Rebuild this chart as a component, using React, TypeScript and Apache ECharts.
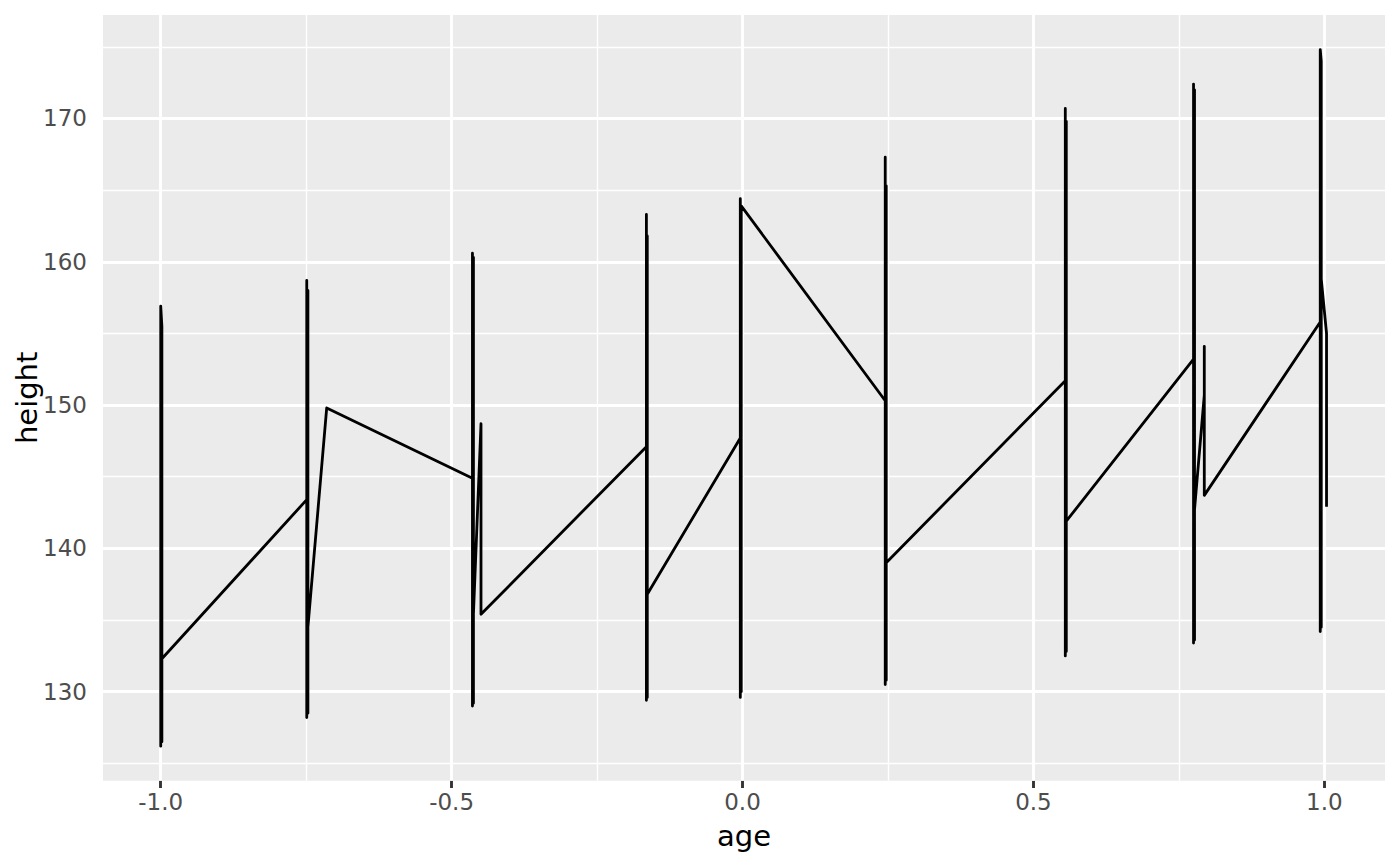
import React, { useEffect, useRef } from "react";
import * as echarts from "echarts";

// standardized age (x) and height (y), in plotting order (sorted by age)
const ages = [
  -1.0, -1.0, -1.0, -0.998, -0.998, -0.998,
  -0.749, -0.749, -0.749, -0.747, -0.747, -0.747,
  -0.7147,
  -0.4642, -0.4642, -0.4642, -0.4625, -0.4625, -0.4625,
  -0.4495, -0.4495,
  -0.1652, -0.1652, -0.1652, -0.1637, -0.1637, -0.1637,
  -0.0038, -0.0038, -0.0038, -0.0022, -0.0022,
  0.2453, 0.2453, 0.2453, 0.247, 0.247, 0.247, 0.247,
  0.5548, 0.5548, 0.5548, 0.5565, 0.5565, 0.5565,
  0.7752, 0.7752, 0.7752, 0.7769, 0.7769, 0.7769,
  0.7937, 0.7937, 0.7937,
  0.993, 0.993, 0.993, 0.9947, 0.9947, 0.9947,
  1.0038, 1.0038,
];
const heights = [
  138.0, 126.2, 156.9, 155.5, 126.5, 132.3,
  143.4, 158.7, 128.2, 158.0, 128.5, 134.5,
  149.8,
  144.9, 160.6, 129.0, 160.3, 129.2, 135.4,
  148.7, 135.4,
  147.1, 163.3, 129.4, 161.8, 129.6, 136.8,
  147.7, 129.6, 164.4, 130.0, 163.9,
  150.3, 167.3, 130.5, 165.3, 130.8, 160.8, 139.0,
  151.7, 170.7, 132.5, 169.8, 132.8, 141.9,
  153.2, 172.4, 133.4, 172.0, 133.6, 142.7,
  150.7, 154.1, 143.7,
  155.8, 134.2, 174.8, 174.0, 134.5, 158.8,
  155.0, 142.9,
];

const xTicks = [-1.0, -0.5, 0.0, 0.5, 1.0];
const xMinorTicks = [-0.75, -0.25, 0.25, 0.75];
const yTicks = [130, 140, 150, 160, 170];
const yMinorTicks = [125, 135, 145, 155, 165, 175];

const FONT = "DejaVu Sans";

export default function App() {
  const ref = useRef<HTMLDivElement>(null);
  useEffect(() => {
    const chart = echarts.init(ref.current as HTMLDivElement, null, { renderer: "svg" });
    const major = { color: "#FFFFFF", width: 2.9, type: "solid" as const };
    const minor = { color: "#FFFFFF", width: 1.45, type: "solid" as const };
    const gridLines = [
      ...xMinorTicks.map((v) => ({ xAxis: v, lineStyle: minor })),
      ...yMinorTicks.map((v) => ({ yAxis: v, lineStyle: minor })),
      ...xTicks.map((v) => ({ xAxis: v, lineStyle: major })),
      ...yTicks.map((v) => ({ yAxis: v, lineStyle: major })),
    ];
    const option = {
      animation: false,
      backgroundColor: "#FFFFFF",
      grid: {
        left: 103,
        right: 15,
        top: 15,
        bottom: 85.3,
        show: true,
        backgroundColor: "#EBEBEB",
        borderWidth: 0,
        containLabel: false,
        outerBoundsMode: "none",
      },
      xAxis: {
        type: "value",
        min: -1.0992,
        max: 1.1043,
        name: "age",
        nameLocation: "middle",
        nameGap: 41,
        nameMoveOverlap: false,
        nameTextStyle: { color: "#000000", fontSize: 29, fontFamily: FONT },
        axisLine: { show: false },
        splitLine: { show: false },
        axisTick: {
          show: true,
          customValues: xTicks,
          length: 7.3,
          lineStyle: { color: "#333333", width: 2.9 },
        },
        axisLabel: {
          customValues: xTicks,
          margin: 10,
          color: "#4D4D4D",
          fontSize: 23,
          fontFamily: FONT,
          formatter: (v: number) => v.toFixed(1),
        },
      },
      yAxis: {
        type: "value",
        min: 123.79,
        max: 177.22,
        name: "height",
        nameLocation: "middle",
        nameRotate: 90,
        nameGap: 62,
        nameMoveOverlap: false,
        nameTextStyle: { color: "#000000", fontSize: 29, fontFamily: FONT },
        axisLine: { show: false },
        splitLine: { show: false },
        axisTick: {
          show: true,
          customValues: yTicks,
          length: 7.3,
          lineStyle: { color: "#333333", width: 2.9 },
        },
        axisLabel: {
          customValues: yTicks,
          margin: 16,
          color: "#4D4D4D",
          fontSize: 23,
          fontFamily: FONT,
          formatter: (v: number) => String(v),
        },
      },
      series: [
        {
          type: "line",
          data: ages.map((a, i) => [a, heights[i]]),
          showSymbol: false,
          symbol: "none",
          silent: true,
          z: 3,
          lineStyle: { color: "#000000", width: 2.8, join: "round", cap: "butt" },
          markLine: {
            z: 1,
            silent: true,
            symbol: ["none", "none"],
            label: { show: false },
            emphasis: { disabled: true },
            animation: false,
            data: gridLines,
          },
        },
      ],
    };
    chart.setOption(option as any);
    return () => chart.dispose();
  }, []);
  return (
    <div
      ref={ref}
      style={{ position: "fixed", left: 0, top: 0, width: 1400, height: 866, background: "#FFFFFF" }}
    />
  );
}
